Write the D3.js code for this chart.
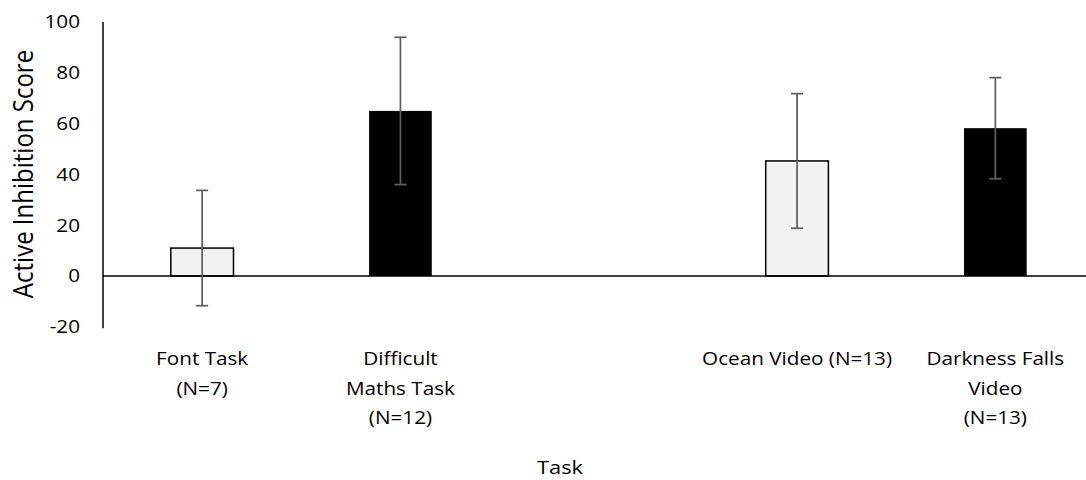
<!DOCTYPE html>
<html>
<head>
<meta charset="utf-8">
<script src="https://cdn.jsdelivr.net/npm/d3@7"></script>
<style>
  body { margin: 0; background: #fff; }
  text { font-family: "Open Sans", sans-serif; fill: #000; }
</style>
</head>
<body>
<div id="chart"></div>
<script>
// data
var tasks = ["Font Task", "Difficult Maths Task", "", "Ocean Video", "Darkness Falls Video"]
var label_lines = [["Font Task", "(N=7)"], ["Difficult", "Maths Task", "(N=12)"], [], ["Ocean Video (N=13)"], ["Darkness Falls", "Video", "(N=13)"]]
var means = [11, 65, null, 45.3, 58.2]
var errors = [22.7, 29, null, 26.5, 19.9]
var fills = ["#f2f2f2", "#000000", null, "#f2f2f2", "#000000"]
var y_ticks = [-20, 0, 20, 40, 60, 80, 100]

var width = 1086, height = 480
var stretch = 1.15 // the source picture is a bit wider than tall

var svg = d3.select("#chart")
  .append("svg")
  .attr("width", width)
  .attr("height", height)

var xScale = d3.scalePoint().domain(tasks).range([103, 1094.5]).padding(0.5)
var yScale = d3.scaleLinear().domain([-20, 100]).range([326.8, 22])
var barWidth = xScale.step() * 0.316

var data = tasks.map(function (t, i) {
  return { task: t, mean: means[i], err: errors[i], fill: fills[i], lines: label_lines[i] }
})
var bars = data.filter(function (d) { return d.mean !== null })

// y axis, no tick marks
svg.append("line")
  .attr("x1", 103).attr("x2", 103)
  .attr("y1", yScale(100)).attr("y2", yScale(-20) + 1.5)
  .attr("stroke", "#000").attr("stroke-width", 1.5)

svg.append("g")
  .selectAll("text")
  .data(y_ticks)
  .enter()
  .append("text")
  .attr("transform", function (d) { return "translate(80," + yScale(d) + ") scale(" + stretch + ",1)" })
  .attr("dy", "0.35em")
  .attr("text-anchor", "end")
  .attr("font-size", "18px")
  .text(function (d) { return d })

// bars
svg.append("g")
  .selectAll("rect")
  .data(bars)
  .enter()
  .append("rect")
  .attr("x", function (d) { return xScale(d.task) - barWidth / 2 })
  .attr("width", barWidth)
  .attr("y", function (d) { return yScale(Math.max(0, d.mean)) })
  .attr("height", function (d) { return Math.abs(yScale(d.mean) - yScale(0)) })
  .attr("fill", function (d) { return d.fill })
  .attr("stroke", "#000")
  .attr("stroke-width", function (d) { return d.fill == "#000000" ? 0 : 1.5 })

// zero line
svg.append("line")
  .attr("x1", 103).attr("x2", 1094.5)
  .attr("y1", yScale(0)).attr("y2", yScale(0))
  .attr("stroke", "#000").attr("stroke-width", 1.5)

// error bars
var eb = svg.append("g").attr("stroke", "#5f5f5f").attr("stroke-width", 1.75)
bars.forEach(function (d) {
  var cx = xScale(d.task)
  eb.append("line")
    .attr("x1", cx).attr("x2", cx)
    .attr("y1", yScale(d.mean + d.err)).attr("y2", yScale(d.mean - d.err))
  ;[d.mean + d.err, d.mean - d.err].forEach(function (v) {
    eb.append("line")
      .attr("x1", cx - 6).attr("x2", cx + 6)
      .attr("y1", yScale(v)).attr("y2", yScale(v))
  })
})

// category labels
var labels = svg.append("g")
data.forEach(function (d) {
  d.lines.forEach(function (line, j) {
    labels.append("text")
      .attr("transform", "translate(" + xScale(d.task) + "," + (365 + j * 29.5) + ") scale(" + stretch + ",1)")
      .attr("text-anchor", "middle")
      .attr("font-size", "18px")
      .text(line)
  })
})

// axis titles
svg.append("text")
  .attr("transform", "translate(560,474) scale(" + stretch + ",1)")
  .attr("text-anchor", "middle")
  .attr("font-size", "19px")
  .text("Task")

svg.append("text")
  .attr("transform", "translate(33, 174) rotate(-90) scale(1," + stretch + ")")
  .attr("text-anchor", "middle")
  .attr("font-size", "24px")
  .text("Active Inhibition Score")
</script>
</body>
</html>
